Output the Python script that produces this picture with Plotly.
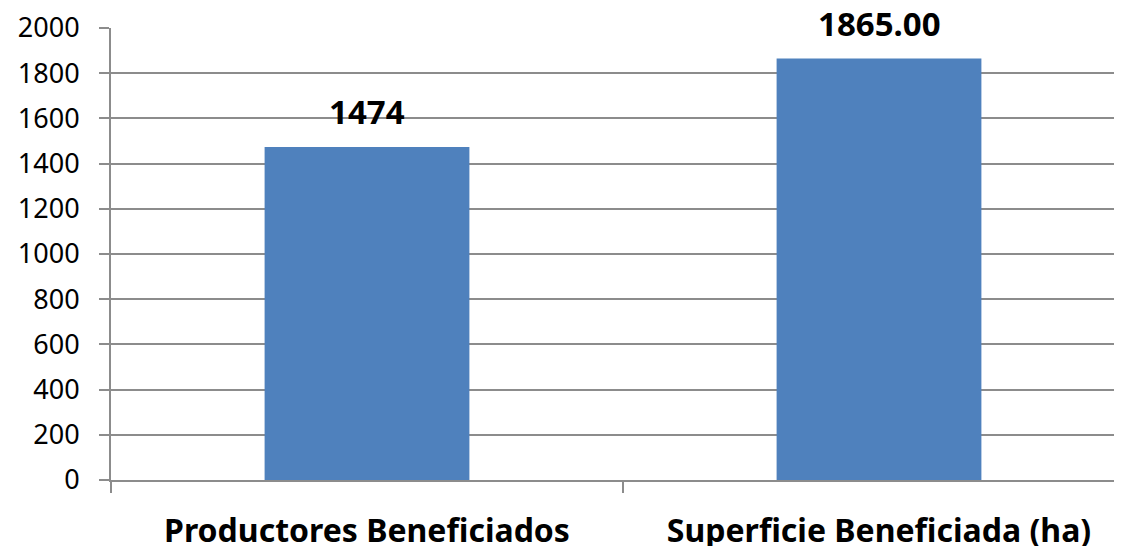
import plotly.graph_objects as go

categories = ["Productores Beneficiados", "Superficie Beneficiada (ha)"]
values = [1474, 1865.00]
value_labels = ["1474", "1865.00"]
y_ticks = [0, 200, 400, 600, 800, 1000, 1200, 1400, 1600, 1800, 2000]

GRID = "#8c8c8c"
FONT = "Noto Sans"

fig = go.Figure()
fig.add_trace(go.Bar(
    x=categories, y=values,
    marker=dict(color="#4F81BD", line=dict(width=0)),
    hoverinfo="x+y",
))

for c, v, t in zip(categories, values, value_labels):
    fig.add_annotation(
        x=c, y=v, text="<b>%s</b>" % t, showarrow=False,
        yanchor="bottom", yshift=11,
        font=dict(family=FONT, size=33, color="#000000"),
    )

fig.update_layout(
    width=1114, height=538, autosize=False,
    margin=dict(l=103, r=0, t=20, b=66, autoexpand=False),
    paper_bgcolor="white", plot_bgcolor="white",
    bargap=0.6, showlegend=False,
    font=dict(family=FONT, color="#000000"),
)
fig.update_xaxes(
    range=[-0.5, 1.4746], automargin=False,
    showline=True, linecolor=GRID, linewidth=2,
    ticks="outside", tickson="boundaries", ticklen=11, tickwidth=2, tickcolor=GRID,
    tickfont=dict(family=FONT, size=32, color="#000000"),
    tickprefix="<b>", ticksuffix="</b>",
    ticklabelstandoff=22,
    showgrid=False, zeroline=False,
)
fig.update_yaxes(
    range=[0, 2000], tickvals=y_ticks, automargin=False,
    showline=True, linecolor=GRID, linewidth=2,
    showgrid=True, gridcolor=GRID, gridwidth=2,
    ticks="outside", ticklen=10, tickwidth=2, tickcolor=GRID,
    tickfont=dict(family=FONT, size=27, color="#000000"),
    ticklabelstandoff=14,
    zeroline=False,
)

fig.write_html("out.html")
